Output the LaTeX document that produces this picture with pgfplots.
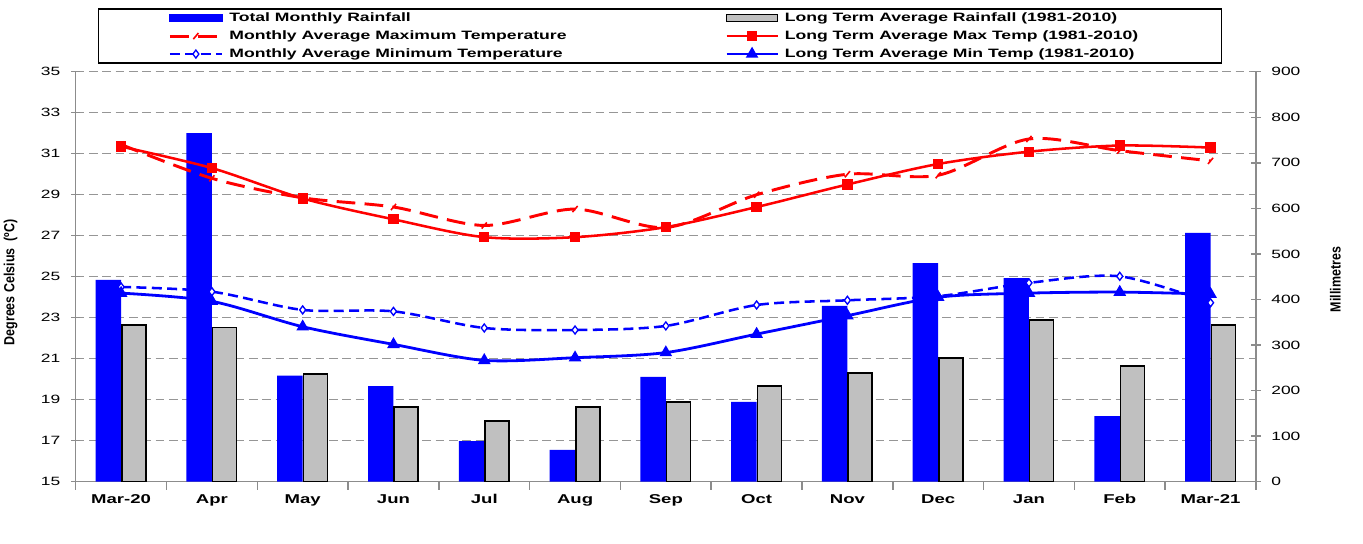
\documentclass[border=0pt]{standalone}
\usepackage{pgfplots}
\usepackage{pgfplotstable}
\pgfplotsset{compat=1.18}
\usepackage{fontspec}
\setmainfont{Liberation Sans}[FakeStretch=1.45]
\newfontfamily\vfont{Liberation Sans}[FakeStretch=0.85]
\definecolor{xred}{RGB}{255,0,0}
\definecolor{xblue}{RGB}{0,0,255}
\definecolor{bargrey}{RGB}{192,192,192}
\definecolor{gridgrey}{RGB}{150,150,150}
\definecolor{axgrey}{RGB}{140,140,140}

\pgfplotstableread{
x rain lta
0 443 344
1 765 338
2 233 236
3 210 164
4 89 133
5 70 164
6 230 175
7 175 210
8 386 239
9 480 272
10 447 355
11 144 254
12 546 344
}\rainfall

\pgfplotstableread{
x mmax ltmax mmin ltmin
0 31.45 31.35 24.50 24.20
1 29.80 30.30 24.27 23.80
2 28.85 28.82 23.38 22.56
3 28.40 27.80 23.31 21.70
4 27.50 26.93 22.50 20.92
5 28.30 26.93 22.40 21.05
6 27.40 27.42 22.60 21.30
7 29.00 28.40 23.62 22.20
8 30.00 29.50 23.85 23.10
9 29.95 30.50 24.05 24.00
10 31.72 31.10 24.70 24.20
11 31.15 31.40 25.02 24.25
12 30.65 31.30 23.73 24.15
}\temps

\pgfplotsset{
 limg/.style={legend image code/.code={\path (-52.5pt,0pt);
   \draw[mark repeat=2,mark phase=2,##1] plot coordinates {(0pt,0pt) (19.5pt,0pt) (39pt,0pt)};}},
 rimg/.style={legend image code/.code={
   \draw[mark repeat=2,mark phase=2,##1] plot coordinates {(0pt,0pt) (19pt,0pt) (38pt,0pt)};}},
 common/.style={
   scale only axis, width=885.2pt, height=307.5pt,
   xmin=-0.5, xmax=12.5,
   /pgf/number format/assume math mode=true,
   tick label style={font=\fontsize{9}{11}\selectfont, text=black},
 },
}

\begin{document}
\begin{tikzpicture}
\path[use as bounding box] (-56.8pt,-46.7pt) rectangle (965.5pt,361.3pt);

% axis A: temperature scale, grid, left axis, boundary ticks
\begin{axis}[common,
  ymin=15, ymax=35,
  axis y line*=left, axis x line*=bottom,
  axis line style={draw=axgrey, line width=1.1pt},
  ytick={15,17,...,35},
  xtick={-0.5,0.5,...,12.5}, xticklabels={},
  yticklabel style={xshift=-4.5pt},
  tick align=center, major tick length=7pt,
  tick style={draw=axgrey, line width=1.1pt},
  x tick style={/pgfplots/tick align=outside, /pgfplots/major tick length=6pt},
  ymajorgrids,
  major grid style={draw=gridgrey, line width=1.1pt, dash pattern=on 6.5pt off 3.5pt},
  ylabel={\vfont\bfseries\fontsize{11}{13}\selectfont Degrees Celsius\ \ (ºC)},
  ylabel style={at={(axis description cs:-0.0551,0.486)}, anchor=center},
]
\addplot[draw=none, forget plot] coordinates {(0,20)};
\end{axis}

% axis B: rainfall bars, right axis
\begin{axis}[common,
  ymin=0, ymax=900,
  axis y line*=right, axis x line*=bottom,
  axis line style={draw=axgrey, line width=1.1pt},
  ytick={0,100,...,900},
  yticklabel style={xshift=4.5pt},
  xtick={0,...,12},
  xticklabels={Mar-20,Apr,May,Jun,Jul,Aug,Sep,Oct,Nov,Dec,Jan,Feb,Mar-21},
  x tick label style={font=\fontsize{9.6}{11}\selectfont\bfseries, yshift=-2pt, text height=7pt, text depth=2pt},
  tick align=center, major tick length=7pt,
  y tick style={draw=axgrey, line width=1.1pt},
  x tick style={draw=none},
  ylabel={\vfont\bfseries\fontsize{11}{13}\selectfont Millimetres},
  ylabel style={at={(axis description cs:1.0673,0.493)}, anchor=center},
]
\addplot[ybar, bar width=19.1pt, bar shift=-9.55pt, fill=xblue, draw=none] table[x=x,y=rain]{\rainfall};
\addplot[ybar, bar width=18.0pt, bar shift=9.55pt, fill=bargrey, draw=black, line width=1.1pt] table[x=x,y=lta]{\rainfall};
\end{axis}

% axis C: temperature lines and legend
\begin{axis}[common,
  ymin=15, ymax=35,
  hide axis,
  legend columns=2,
  legend cell align=left,
  legend style={at={(0.495,1)}, anchor=south, yshift=6pt,
    draw=black, line width=1pt, inner xsep=0pt, inner ysep=0pt,
    font=\fontsize{9.1}{11}\selectfont\bfseries,
    nodes={inner xsep=0pt, inner ysep=2pt, text height=7.5pt, text depth=2pt},
    column sep=0pt},
]
\addlegendimage{legend image code/.code={\path (-52.5pt,0pt); \fill[xblue] (0pt,-2.6pt) rectangle (39pt,2.6pt);}}
\addlegendentry{\makebox[376.5pt][l]{\hspace{4.5pt}Total Monthly Rainfall}}
\addlegendimage{legend image code/.code={\filldraw[fill=bargrey, draw=black, line width=0.9pt] (0pt,-2.4pt) rectangle (38pt,2.4pt);}}
\addlegendentry{\makebox[332pt][l]{\hspace{4.5pt}Long Term Average Rainfall (1981-2010)}}

\addplot[xred, line width=2.2pt, dash pattern=on 14pt off 7pt, smooth, tension=0.5,
  mark=|, mark size=3pt, mark options={solid, rotate=-40, line width=1.2pt}, limg]
  table[x=x,y=mmax]{\temps};
\addlegendentry{\makebox[376.5pt][l]{\hspace{4.5pt}Monthly Average Maximum Temperature}}

\addplot[xred, line width=1.9pt, smooth, tension=0.5,
  mark=square*, mark size=2.9pt, mark options={solid}, rimg]
  table[x=x,y=ltmax]{\temps};
\addlegendentry{\makebox[332pt][l]{\hspace{4.5pt}Long Term Average Max Temp (1981-2010)}}

\addplot[xblue, line width=1.9pt, dash pattern=on 7.5pt off 4pt, smooth, tension=0.5,
  mark=diamond*, mark size=3pt, mark options={solid, fill=white, line width=1pt}, limg]
  table[x=x,y=mmin]{\temps};
\addlegendentry{\makebox[376.5pt][l]{\hspace{4.5pt}Monthly Average Minimum Temperature}}

\addplot[xblue, line width=2.1pt, smooth, tension=0.5,
  mark=triangle*, mark size=3.4pt, mark options={solid}, rimg]
  table[x=x,y=ltmin]{\temps};
\addlegendentry{\makebox[332pt][l]{\hspace{4.5pt}Long Term Average Min Temp (1981-2010)}}
\end{axis}
\end{tikzpicture}
\end{document}
